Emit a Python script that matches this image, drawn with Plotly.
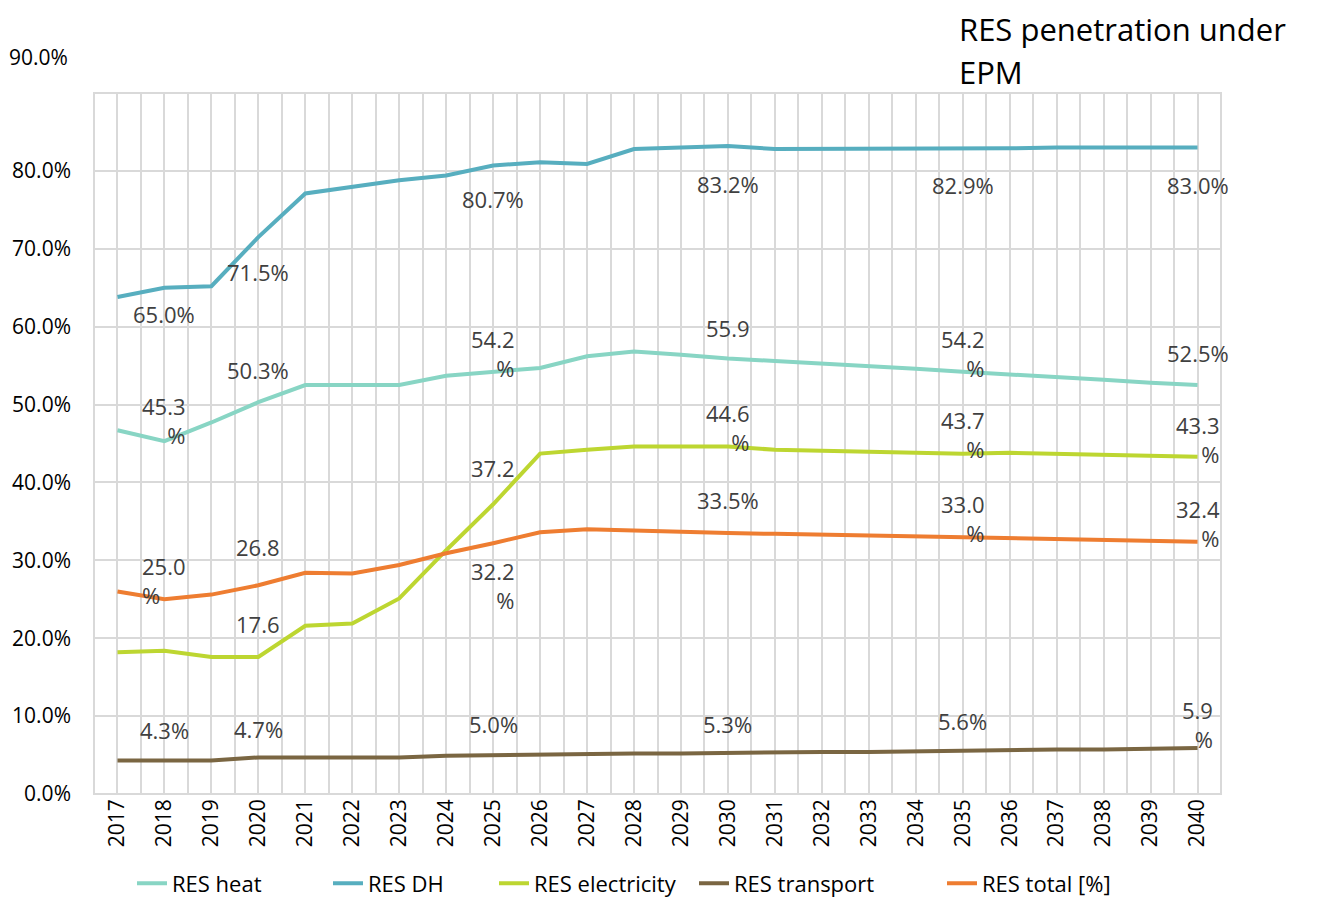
import plotly.graph_objects as go

years = list(range(2017, 2041))

res_heat = [46.7, 45.3, 47.7, 50.3, 52.5, 52.5, 52.5, 53.7, 54.2, 54.7, 56.2, 56.8,
            56.4, 55.9, 55.6, 55.3, 55.0, 54.6, 54.2, 53.9, 53.5, 53.2, 52.8, 52.5]
res_dh = [63.8, 65.0, 65.2, 71.5, 77.1, 78.0, 78.8, 79.4, 80.7, 81.1, 80.9, 82.8,
          83.0, 83.2, 82.8, 82.8, 82.8, 82.9, 82.9, 82.9, 83.0, 83.0, 83.0, 83.0]
res_elec = [18.2, 18.4, 17.6, 17.6, 21.6, 21.9, 25.1, 31.3, 37.2, 43.7, 44.2, 44.6,
            44.6, 44.6, 44.2, 44.1, 44.0, 43.9, 43.7, 43.8, 43.7, 43.6, 43.5, 43.3]
res_transport = [4.3, 4.3, 4.3, 4.7, 4.7, 4.7, 4.7, 4.9, 5.0, 5.1, 5.1, 5.2,
                 5.2, 5.3, 5.3, 5.4, 5.4, 5.5, 5.6, 5.6, 5.7, 5.7, 5.8, 5.9]
res_total = [26.0, 25.0, 25.6, 26.8, 28.4, 28.3, 29.4, 30.9, 32.2, 33.6, 34.0, 33.8,
             33.6, 33.5, 33.4, 33.3, 33.2, 33.1, 33.0, 32.9, 32.8, 32.7, 32.5, 32.4]

label_years = [2018, 2020, 2025, 2030, 2035, 2040]

# (name, values, colour, legend text x in px, label style per labelled year: suffix, yshift px, align)
series = [
    ("RES heat", res_heat, "#88D5C4", 173,
     [("<br>%", 21, "right"), ("%", 32, "center"), ("<br>%", 18, "right"),
      ("", 31, "center"), ("<br>%", 18, "right"), ("%", 32, "center")]),
    ("RES DH", res_dh, "#57AEBF", 369,
     [("%", -26, "center"), ("%", -35, "center"), ("%", -34, "center"),
      ("%", -38, "center"), ("%", -37, "center"), ("%", -37, "center")]),
    ("RES electricity", res_elec, "#BDD631", 535,
     [None, ("", 33, "center"), ("", 36, "center"),
      ("<br>%", 19, "right"), ("<br>%", 19, "right"), ("<br>%", 17, "right")]),
    ("RES transport", res_transport, "#7A6642", 735,
     [("%", 31, "center"), ("%", 28, "center"), ("%", 31, "center"),
      ("%", 29, "center"), ("%", 29, "center"), ("<br>%", 24, "right")]),
    ("RES total [%]", res_total, "#EE7D31", 983,
     [("<br>%", 19, "left"), ("", 38, "center"), ("<br>%", -42, "right"),
      ("%", 33, "center"), ("<br>%", 18, "right"), ("<br>%", 18, "right")]),
]

FONT = "Open Sans, Noto Sans, sans-serif"
fig = go.Figure()
annotations = []
legends = {}

for i, (name, vals, color, text_x, styles) in enumerate(series):
    lg = "legend" if i == 0 else f"legend{i + 1}"
    legends[lg] = dict(
        orientation="h", xref="container", yref="container",
        x=(text_x - 49) / 1319, xanchor="left", y=0.025, yanchor="middle",
        font=dict(size=22, color="#000000"), bgcolor="rgba(0,0,0,0)",
    )
    fig.add_trace(go.Scatter(
        x=years, y=vals, name=name, mode="lines", legend=lg,
        line=dict(color=color, width=4),
    ))
    for yr, st in zip(label_years, styles):
        if st is None:
            continue
        suffix, shift, align = st
        v = vals[years.index(yr)]
        annotations.append(dict(
            x=yr, y=v, xref="x", yref="y", text=f"{v:.1f}{suffix}",
            showarrow=False, yshift=shift, align=align,
            font=dict(family=FONT, size=22, color="#404040"),
        ))

# title (two lines, spaced like the original) and the stray top tick label
for txt, ty in [("RES penetration under", 1.0913), ("EPM", 1.030)]:
    annotations.append(dict(
        xref="paper", yref="paper", x=0.766, y=ty, xanchor="left", yanchor="middle",
        text=txt, showarrow=False,
        font=dict(family=FONT, size=31, color="#000000"),
    ))
annotations.append(dict(
    xref="paper", yref="paper", x=-0.021, y=1.051, xanchor="right", yanchor="middle",
    text="90.0%", showarrow=False,
    font=dict(family=FONT, size=21, color="#000000"),
))

# page body has an 8px margin, so margins are shifted to keep the plot box in place
fig.update_layout(
    width=1319, height=898,
    margin=dict(l=86, r=106, t=85, b=112),
    paper_bgcolor="white", plot_bgcolor="white",
    font=dict(family=FONT, size=21, color="#000000"),
    annotations=annotations,
    showlegend=True,
    shapes=[dict(type="rect", xref="paper", yref="paper", x0=0, y0=0, x1=1, y1=1,
                 line=dict(color="#D9D9D9", width=2), layer="below")],
    **legends,
)

fig.update_xaxes(
    range=[2016.5, 2040.5], tickvals=years, ticktext=[str(y) for y in years],
    tickangle=-90, showgrid=True, gridcolor="#D9D9D9", gridwidth=2,
    minor=dict(tick0=2016.5, dtick=1, showgrid=True, gridcolor="#D9D9D9", gridwidth=2),
    zeroline=False, showline=False, ticks="", automargin=False,
    tickfont=dict(size=21, color="#000000"),
)
fig.update_yaxes(
    range=[0, 90], tickvals=list(range(0, 90, 10)),
    ticktext=[f"{v:.1f}%" for v in range(0, 90, 10)],
    showgrid=True, gridcolor="#D9D9D9", gridwidth=2,
    zeroline=False, showline=False, ticks="", ticklabelstandoff=22, automargin=False,
    tickfont=dict(size=21, color="#000000"),
)

fig.write_html("out.html")
